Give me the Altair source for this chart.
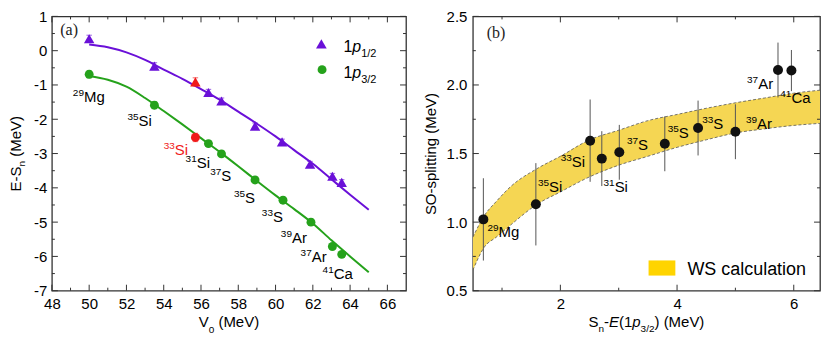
import altair as alt
import pandas as pd

# ---------------- panel (a): E - S_n versus V0 ----------------
a_v0_p12 = [50.0, 53.5, 56.4, 57.1, 58.9, 60.35, 61.85, 63.05, 63.55]
a_e_p12 = [0.35, -0.45, -1.22, -1.47, -2.20, -2.66, -3.31, -3.66, -3.84]
a_err_p12 = [0.10, 0.10, 0.09, 0.09, 0.09, 0.08, 0.08, 0.08, 0.08]
a_v0_p32 = [50.0, 53.5, 56.4, 57.1, 58.9, 60.4, 61.9, 63.05, 63.55]
a_e_p32 = [-0.69, -1.59, -2.71, -3.01, -3.77, -4.36, -5.00, -5.71, -5.94]
a_err_p32 = [0.10, 0.10, 0.08, 0.08, 0.08, 0.08, 0.08, 0.08, 0.08]
a_v0_red = [55.7]
a_e_red_p12 = [-0.91]
a_e_red_p32 = [-2.53]
a_err_red = [0.12]
a_curve_v0 = [50, 51, 52, 53, 54, 55, 56, 57, 58, 59, 60, 61, 62, 63, 64, 65]
a_curve_p12 = [0.18, 0.10, -0.05, -0.27, -0.55, -0.82, -1.12, -1.43, -1.78,
               -2.13, -2.50, -2.90, -3.30, -3.75, -4.20, -4.64]
a_curve_p32 = [-0.74, -0.85, -1.05, -1.38, -1.76, -2.15, -2.55, -2.95, -3.37,
               -3.80, -4.22, -4.62, -5.04, -5.53, -6.00, -6.46]
a_lab_mass = ["29", "35", "33", "31", "37", "35", "33", "39", "37", "41"]
a_lab_elem = ["Mg", "Si", "Si", "Si", "S", "S", "S", "Ar", "Ar", "Ca"]
a_lab_x = [49.72, 52.65, 54.59, 55.77, 57.09, 58.36, 59.86, 60.88, 61.94, 63.12]
a_lab_y = [-1.49, -2.20, -3.03, -3.43, -3.79, -4.43, -5.01, -5.60, -6.15, -6.66]
a_lab_red = [False, False, True, False, False, False, False, False, False, False]
a_x_major = [48, 50, 52, 54, 56, 58, 60, 62, 64, 66]
a_x_minor = [49, 51, 53, 55, 57, 59, 61, 63, 65]
a_y_major = [-7, -6, -5, -4, -3, -2, -1, 0, 1]
a_y_minor = [-6.5, -5.5, -4.5, -3.5, -2.5, -1.5, -0.5, 0.5]

# ---------------- panel (b): SO splitting ----------------
b_x = [0.68, 1.58, 2.51, 2.71, 3.01, 3.79, 4.36, 5.00, 5.73, 5.96]
b_so = [1.02, 1.13, 1.594, 1.463, 1.509, 1.571, 1.686, 1.659, 2.109, 2.105]
b_err = [0.30, 0.30, 0.30, 0.20, 0.20, 0.20, 0.20, 0.20, 0.20, 0.15]
b_band_x = [0.5, 0.7, 0.9, 1.15, 1.6, 2.0, 2.5, 3.0, 3.5, 4.0, 4.5, 5.0, 5.5, 6.0, 6.45]
b_band_hi = [0.89, 1.05, 1.15, 1.26, 1.39, 1.48, 1.60, 1.67, 1.74, 1.785, 1.83, 1.87, 1.905, 1.94, 1.962]
b_band_lo = [0.65, 0.82, 0.89, 0.98, 1.13, 1.22, 1.33, 1.415, 1.48, 1.545, 1.60, 1.65, 1.68, 1.705, 1.72]
b_lab_mass = ["29", "35", "33", "31", "37", "35", "33", "39", "37", "41"]
b_lab_elem = ["Mg", "Si", "Si", "Si", "S", "S", "S", "Ar", "Ar", "Ca"]
b_lab_x = [0.94, 1.805, 2.195, 2.93, 3.33, 4.03, 4.62, 5.37, 5.39, 5.96]
b_lab_y = [0.893, 1.22, 1.40, 1.22, 1.525, 1.61, 1.68, 1.68, 1.974, 1.866]
b_x_major = [2, 4, 6]
b_x_minor = [1, 3, 5]
b_y_major = [0.5, 1.0, 1.5, 2.0, 2.5]
b_y_minor = [0.75, 1.25, 1.75, 2.25]

# ---------------- styling ----------------
FONT = "Liberation Sans"
SERIF = "Liberation Serif"
FRAME = "#333333"
PURPLE = "#6a10d8"
GREEN = "#25a21b"
RED = "#f01a1a"
BAND = "#f5d653"
SWATCH = "#ffd400"

WL, WR, H = 355, 348, 275
REF_WL, REF_WR, REF_H = 358.5, 357.6, 290.0

def sxL(v):
    return v * WL / REF_WL

def sxR(v):
    return v * WR / REF_WR

def sy(v):
    return v * H / REF_H

ARIAL = {' ': 278, '(': 333, ')': 333, '-': 333, '/': 278, 'E': 667, 'M': 833,
         'S': 667, 'V': 667, 'e': 556, 'n': 556, 'p': 556}
for d in "0123456789":
    ARIAL[d] = 556

def tw(s, fs):
    return sum(ARIAL.get(c, 556) for c in s) * fs / 1000.0

def rich(pieces, x0, y0, angle=0, center=False):
    """pieces: (text, fontSize, dy, fontStyle); leading spaces become offsets."""
    total = sum(tw(p[0], p[1]) for p in pieces)
    off = -total / 2 if center else 0
    layers = []
    for s, fs, dy, style in pieces:
        lead = len(s) - len(s.lstrip(" "))
        off += tw(" " * lead, fs)
        body = s.lstrip(" ")
        props = dict(align="left", baseline="alphabetic", fontSize=fs, font=FONT,
                     fontStyle=style, color="black", dy=dy)
        if angle:
            props["angle"] = angle
            props["dx"] = off
            x, y = x0, y0
        else:
            x, y = x0 + off, y0
        layers.append(alt.Chart(pd.DataFrame({"t": [body]})).mark_text(**props).encode(
            x=alt.value(x), y=alt.value(y), text="t:N"))
        off += tw(body, fs)
    return layers

def ticks(xs_major, xs_minor, ys_major, ys_minor, W, xscale, yscale, xaxis, yaxis):
    layers = []
    for vals, L in ((xs_major, 6), (xs_minor, 3)):
        base = alt.Chart(pd.DataFrame({"t": vals})).mark_rule(color=FRAME, strokeWidth=1)
        xe = alt.X("t:Q", scale=xscale, axis=xaxis)
        layers.append(base.encode(x=xe, y=alt.value(H), y2=alt.value(H - L)))
        layers.append(base.encode(x=xe, y=alt.value(0), y2=alt.value(L)))
    for vals, L in ((ys_major, 6), (ys_minor, 3)):
        base = alt.Chart(pd.DataFrame({"t": vals})).mark_rule(color=FRAME, strokeWidth=1)
        ye = alt.Y("t:Q", scale=yscale, axis=yaxis)
        layers.append(base.encode(y=ye, x=alt.value(0), x2=alt.value(L)))
        layers.append(base.encode(y=ye, x=alt.value(W), x2=alt.value(W - L)))
    return layers

axis_common = dict(ticks=False, domain=False, grid=False, labelFontSize=15,
                   labelFont=FONT, labelColor="black", labelFlush=False, labelOverlap=False)

# ================= panel (a) =================
xsA = alt.Scale(domain=[48, 67], nice=False, zero=False)
ysA = alt.Scale(domain=[-7, 1], nice=False, zero=False)
axA_x = alt.Axis(values=a_x_major, labelPadding=6, title=None, **axis_common)
axA_y = alt.Axis(values=a_y_major, labelPadding=5, title=None, labelExpr="'' + datum.value", **axis_common)

curves = pd.DataFrame({"v0": a_curve_v0, "p12": a_curve_p12, "p32": a_curve_p32})
def err_df(xs, ys, es):
    return pd.DataFrame({"v0": xs, "e": ys,
                         "lo": [e - s for e, s in zip(ys, es)],
                         "hi": [e + s for e, s in zip(ys, es)]})
p12 = err_df(a_v0_p12, a_e_p12, a_err_p12)
p32 = err_df(a_v0_p32, a_e_p32, a_err_p32)
r12 = err_df(a_v0_red, a_e_red_p12, a_err_red)
r32 = err_df(a_v0_red, a_e_red_p32, a_err_red)
labA = pd.DataFrame({"x": a_lab_x, "y": a_lab_y, "m": a_lab_mass, "el": a_lab_elem,
                     "c": [RED if r else "black" for r in a_lab_red]})

xA = lambda f: alt.X(f, type="quantitative", scale=xsA, axis=axA_x)
yA = lambda f: alt.Y(f, type="quantitative", scale=ysA, axis=axA_y)

layersA = []
layersA.append(alt.Chart(curves).mark_line(color=PURPLE, strokeWidth=2, interpolate="monotone").encode(
    x=xA("v0"), y=yA("p12")))
layersA.append(alt.Chart(curves).mark_line(color=GREEN, strokeWidth=2, interpolate="monotone").encode(
    x=xA("v0"), y=yA("p32")))
for df, col, shape, size in ((p12, PURPLE, "triangle-up", 110), (p32, GREEN, "circle", 80),
                             (r12, RED, "triangle-up", 110), (r32, RED, "circle", 80)):
    layersA.append(alt.Chart(df).mark_rule(color=col, opacity=0.55, strokeWidth=1.2).encode(
        x=xA("v0"), y=yA("lo"), y2="hi"))
    for f in ("lo", "hi"):
        layersA.append(alt.Chart(df).mark_point(shape="stroke", size=30, color=col, opacity=0.55,
                                                strokeWidth=1.2).encode(x=xA("v0"), y=yA(f)))
    layersA.append(alt.Chart(df).mark_point(shape=shape, size=size, filled=True, color=col,
                                            opacity=1).encode(x=xA("v0"), y=yA("e")))
layersA.append(alt.Chart(labA).mark_text(align="left", baseline="alphabetic", fontSize=15, font=FONT).encode(
    x=xA("x"), y=yA("y"), text="el:N", color=alt.Color("c:N", scale=None)))
layersA.append(alt.Chart(labA).mark_text(align="right", baseline="alphabetic", fontSize=10, font=FONT,
                                         dy=-6).encode(
    x=xA("x"), y=yA("y"), text="m:N", color=alt.Color("c:N", scale=None)))
# legend
ONE = pd.DataFrame({"k": [0]})
layersA.append(alt.Chart(ONE).mark_point(shape="triangle-up", size=115, filled=True, color=PURPLE,
                                         opacity=1).encode(x=alt.value(sxL(272.8)), y=alt.value(sy(29))))
layersA.append(alt.Chart(ONE).mark_point(shape="circle", size=80, filled=True, color=GREEN,
                                         opacity=1).encode(x=alt.value(sxL(273.5)), y=alt.value(sy(56.3))))
layersA += rich([("1", 16, 0, "normal"), ("p", 16, 0, "italic"), ("1/2", 11, 5, "normal")],
                sxL(295.1), sy(38))
layersA += rich([("1", 16, 0, "normal"), ("p", 16, 0, "italic"), ("3/2", 11, 5, "normal")],
                sxL(295.1), sy(64.7))
layersA.append(alt.Chart(pd.DataFrame({"t": ["(a)"]})).mark_text(
    align="left", baseline="alphabetic", fontSize=16, font=SERIF, color="#222").encode(
    x=alt.value(sxL(8.5)), y=alt.value(sy(20)), text="t:N"))
layersA += ticks(a_x_major, a_x_minor, a_y_major, a_y_minor, WL, xsA, ysA, axA_x, axA_y)
# axis titles
layersA += rich([("V", 15, 0, "normal"), ("0", 10, 6, "normal"), (" (MeV)", 15, 0, "normal")],
                WL / 2, H + 36, center=True)
layersA += rich([("E-S", 15, 0, "normal"), ("n", 10, 4, "normal"), (" (MeV)", 15, 0, "normal")],
                -31, H / 2 + 38, angle=270)

panelA = alt.layer(*layersA).properties(width=WL, height=H)

# ================= panel (b) =================
xsB = alt.Scale(domain=[0.5, 6.45], nice=False, zero=False)
ysB = alt.Scale(domain=[0.5, 2.5], nice=False, zero=False)
axB_x = alt.Axis(values=b_x_major, labelPadding=6, title=None, **axis_common)
axB_y = alt.Axis(values=b_y_major, format=".1f", labelPadding=6, title="SO-splitting (MeV)",
                 titleFont=FONT, titleFontSize=15, titleFontWeight="normal",
                 titleColor="black", titlePadding=8, **axis_common)

band = pd.DataFrame({"x": b_band_x, "hi": b_band_hi, "lo": b_band_lo})
pts = pd.DataFrame({"x": b_x, "so": b_so,
                    "lo": [v - e for v, e in zip(b_so, b_err)],
                    "hi": [v + e for v, e in zip(b_so, b_err)]})
labB = pd.DataFrame({"x": b_lab_x, "y": b_lab_y, "m": b_lab_mass, "el": b_lab_elem})

xB = lambda f: alt.X(f, type="quantitative", scale=xsB, axis=axB_x)
yB = lambda f: alt.Y(f, type="quantitative", scale=ysB, axis=axB_y)

layersB = []
layersB.append(alt.Chart(band).mark_area(color=BAND, opacity=1, interpolate="monotone", clip=True).encode(
    x=xB("x"), y=yB("hi"), y2="lo"))
for f in ("hi", "lo"):
    layersB.append(alt.Chart(band).mark_line(color="#555555", strokeWidth=0.8, strokeDash=[3, 2],
                                             interpolate="monotone", clip=True).encode(x=xB("x"), y=yB(f)))
layersB.append(alt.Chart(pts).mark_rule(color="#555555", strokeWidth=1).encode(x=xB("x"), y=yB("lo"), y2="hi"))
layersB.append(alt.Chart(pts).mark_point(shape="circle", size=100, filled=True, color="#111111",
                                         opacity=1).encode(x=xB("x"), y=yB("so")))
layersB.append(alt.Chart(labB).mark_text(align="left", baseline="alphabetic", fontSize=15, font=FONT,
                                         color="black").encode(x=xB("x"), y=yB("y"), text="el:N"))
layersB.append(alt.Chart(labB).mark_text(align="right", baseline="alphabetic", fontSize=10, font=FONT,
                                         color="black", dy=-6).encode(x=xB("x"), y=yB("y"), text="m:N"))
layersB.append(alt.Chart(ONE).mark_rect(color=SWATCH).encode(
    x=alt.value(sxR(181)), x2=alt.value(sxR(208.6)), y=alt.value(sy(258)), y2=alt.value(sy(274))))
layersB.append(alt.Chart(pd.DataFrame({"t": ["WS calculation"]})).mark_text(
    align="left", baseline="alphabetic", fontSize=18, font=FONT, color="black").encode(
    x=alt.value(sxR(221)), y=alt.value(sy(273)), text="t:N"))
layersB.append(alt.Chart(pd.DataFrame({"t": ["(b)"]})).mark_text(
    align="left", baseline="alphabetic", fontSize=16, font=SERIF, color="#222").encode(
    x=alt.value(sxR(14.3)), y=alt.value(sy(22.5)), text="t:N"))
layersB += ticks(b_x_major, b_x_minor, b_y_major, b_y_minor, WR, xsB, ysB, axB_x, axB_y)
layersB += rich([("S", 15, 0, "normal"), ("n", 10, 5, "normal"), ("-", 15, 0, "normal"),
                 ("E", 15, 0, "italic"), ("(1", 15, 0, "normal"), ("p", 15, 0, "italic"),
                 ("3/2", 10, 5, "normal"), (")", 15, 0, "normal"), (" (MeV)", 15, 0, "normal")],
                WR / 2, H + 36, center=True)

panelB = alt.layer(*layersB).properties(width=WR, height=H)

chart = alt.hconcat(panelA, panelB, spacing=14).properties(
    padding={"left": 0, "right": 0, "top": 0, "bottom": 0}
).configure_view(stroke=FRAME, strokeWidth=1.3)

chart.save("out.html", embed_options={"renderer": "svg", "actions": False})
